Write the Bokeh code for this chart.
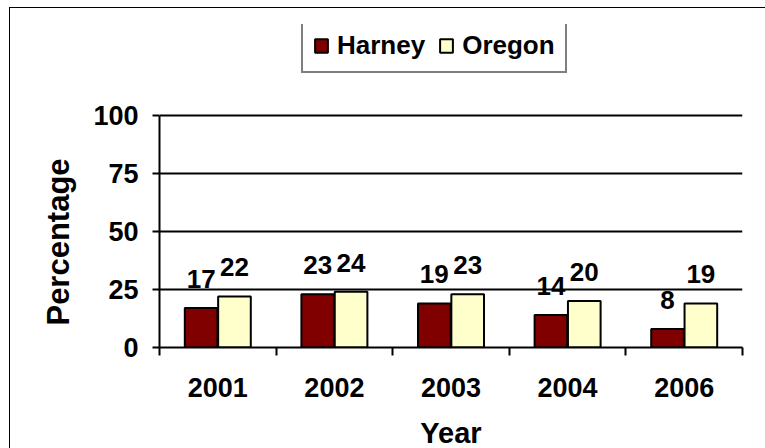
from bokeh.plotting import figure
from bokeh.models import (Range1d, FixedTicker, Legend, LegendItem, ColumnDataSource)
from bokeh.core.properties import value
from bokeh.embed import file_html
from bokeh.resources import INLINE

years = ["2001", "2002", "2003", "2004", "2006"]
harney = [17, 23, 19, 14, 8]
oregon = [22, 24, 23, 20, 19]
y_ticks = [0, 25, 50, 75, 100]

FONT = "Liberation Sans"
BAR_W = 0.28
OFF = 0.143

# layout (pixels)
W, H = 758, 447
B_LEFT, B_RIGHT, B_TOP, B_BOTTOM = 149, 26, 16, 108
FRAME_H = H - B_TOP - B_BOTTOM
AXIS_H = 232  # pixel height of the 0..100 span
Y_MAX = 100 * FRAME_H / AXIS_H

n = len(years)
centers = [i + 0.5 for i in range(n)]
src_h = ColumnDataSource(dict(x=[c - OFF for c in centers], top=harney,
                              lab=[str(v) for v in harney]))
src_o = ColumnDataSource(dict(x=[c + OFF for c in centers], top=oregon,
                              lab=[str(v) for v in oregon]))

p = figure(width=W, height=H, output_backend="svg", toolbar_location=None,
           x_range=Range1d(0, n), y_range=Range1d(0, Y_MAX),
           min_border_left=B_LEFT, min_border_right=B_RIGHT,
           min_border_top=B_TOP, min_border_bottom=B_BOTTOM)
p.styles = {"margin-left": "9px", "margin-top": "7px",
            "border-top": "1px solid black", "border-left": "1px solid black"}
p.outline_line_color = None
p.background_fill_color = "white"
p.border_fill_color = "white"

rh = p.vbar(x="x", top="top", width=BAR_W, bottom=0, source=src_h,
            fill_color="#800000", line_color="black", line_width=2)
ro = p.vbar(x="x", top="top", width=BAR_W, bottom=0, source=src_o,
            fill_color="#FFFFCC", line_color="black", line_width=2)

for s in (src_h, src_o):
    p.text(x="x", y="top", text="lab", source=s, text_align="center",
           text_baseline="bottom", y_offset=-20, text_font=value(FONT),
           text_font_style="bold", text_font_size="26px", text_color="black")

# axes
p.xaxis.ticker = FixedTicker(ticks=centers, minor_ticks=list(range(n + 1)))
p.xaxis.major_label_overrides = {c: y for c, y in zip(centers, years)}
p.xaxis.major_tick_out = 0
p.xaxis.major_tick_in = 0
p.xaxis.minor_tick_out = 8
p.xaxis.minor_tick_in = 0
p.xaxis.minor_tick_line_width = 2
p.xaxis.major_label_standoff = 22
p.xaxis.axis_label = "Year"
p.xaxis.axis_label_standoff = 17

p.yaxis.ticker = FixedTicker(ticks=y_ticks)
p.yaxis.bounds = (0, 100)
p.yaxis.major_tick_out = 7
p.yaxis.major_tick_in = 0
p.yaxis.minor_tick_line_color = None
p.yaxis.major_label_standoff = 14
# trailing no-break spaces keep the label centred on the 0-100 span
p.yaxis.axis_label = "Percentage" + "\u00a0" * 13
p.yaxis.axis_label_standoff = 14

for ax in (p.xaxis, p.yaxis):
    ax.axis_line_width = 2
    ax.axis_line_color = "black"
    ax.major_tick_line_width = 2
    ax.major_tick_line_color = "black"
    ax.major_label_text_font = FONT
    ax.major_label_text_font_style = "bold"
    ax.major_label_text_font_size = "27px"
    ax.major_label_text_color = "black"
    ax.axis_label_text_font = FONT
    ax.axis_label_text_font_style = "bold"
    ax.axis_label_text_color = "black"
p.xaxis.axis_label_text_font_size = "29px"
p.yaxis.axis_label_text_font_size = "31px"

p.xgrid.grid_line_color = None
p.ygrid.grid_line_color = "black"
p.ygrid.grid_line_width = 2

legend = Legend(items=[LegendItem(label="Harney", renderers=[rh]),
                       LegendItem(label="Oregon", renderers=[ro])],
                orientation="horizontal", location=(142, 274),
                label_text_font=FONT, label_text_font_style="bold",
                label_text_font_size="26px", label_text_color="black",
                glyph_width=16, glyph_height=17, label_standoff=8,
                spacing=13, padding=10, margin=0,
                border_line_color="black", border_line_width=2,
                background_fill_color="white", background_fill_alpha=1)
p.add_layout(legend, "center")

open("out.html", "w").write(file_html(p, INLINE))
